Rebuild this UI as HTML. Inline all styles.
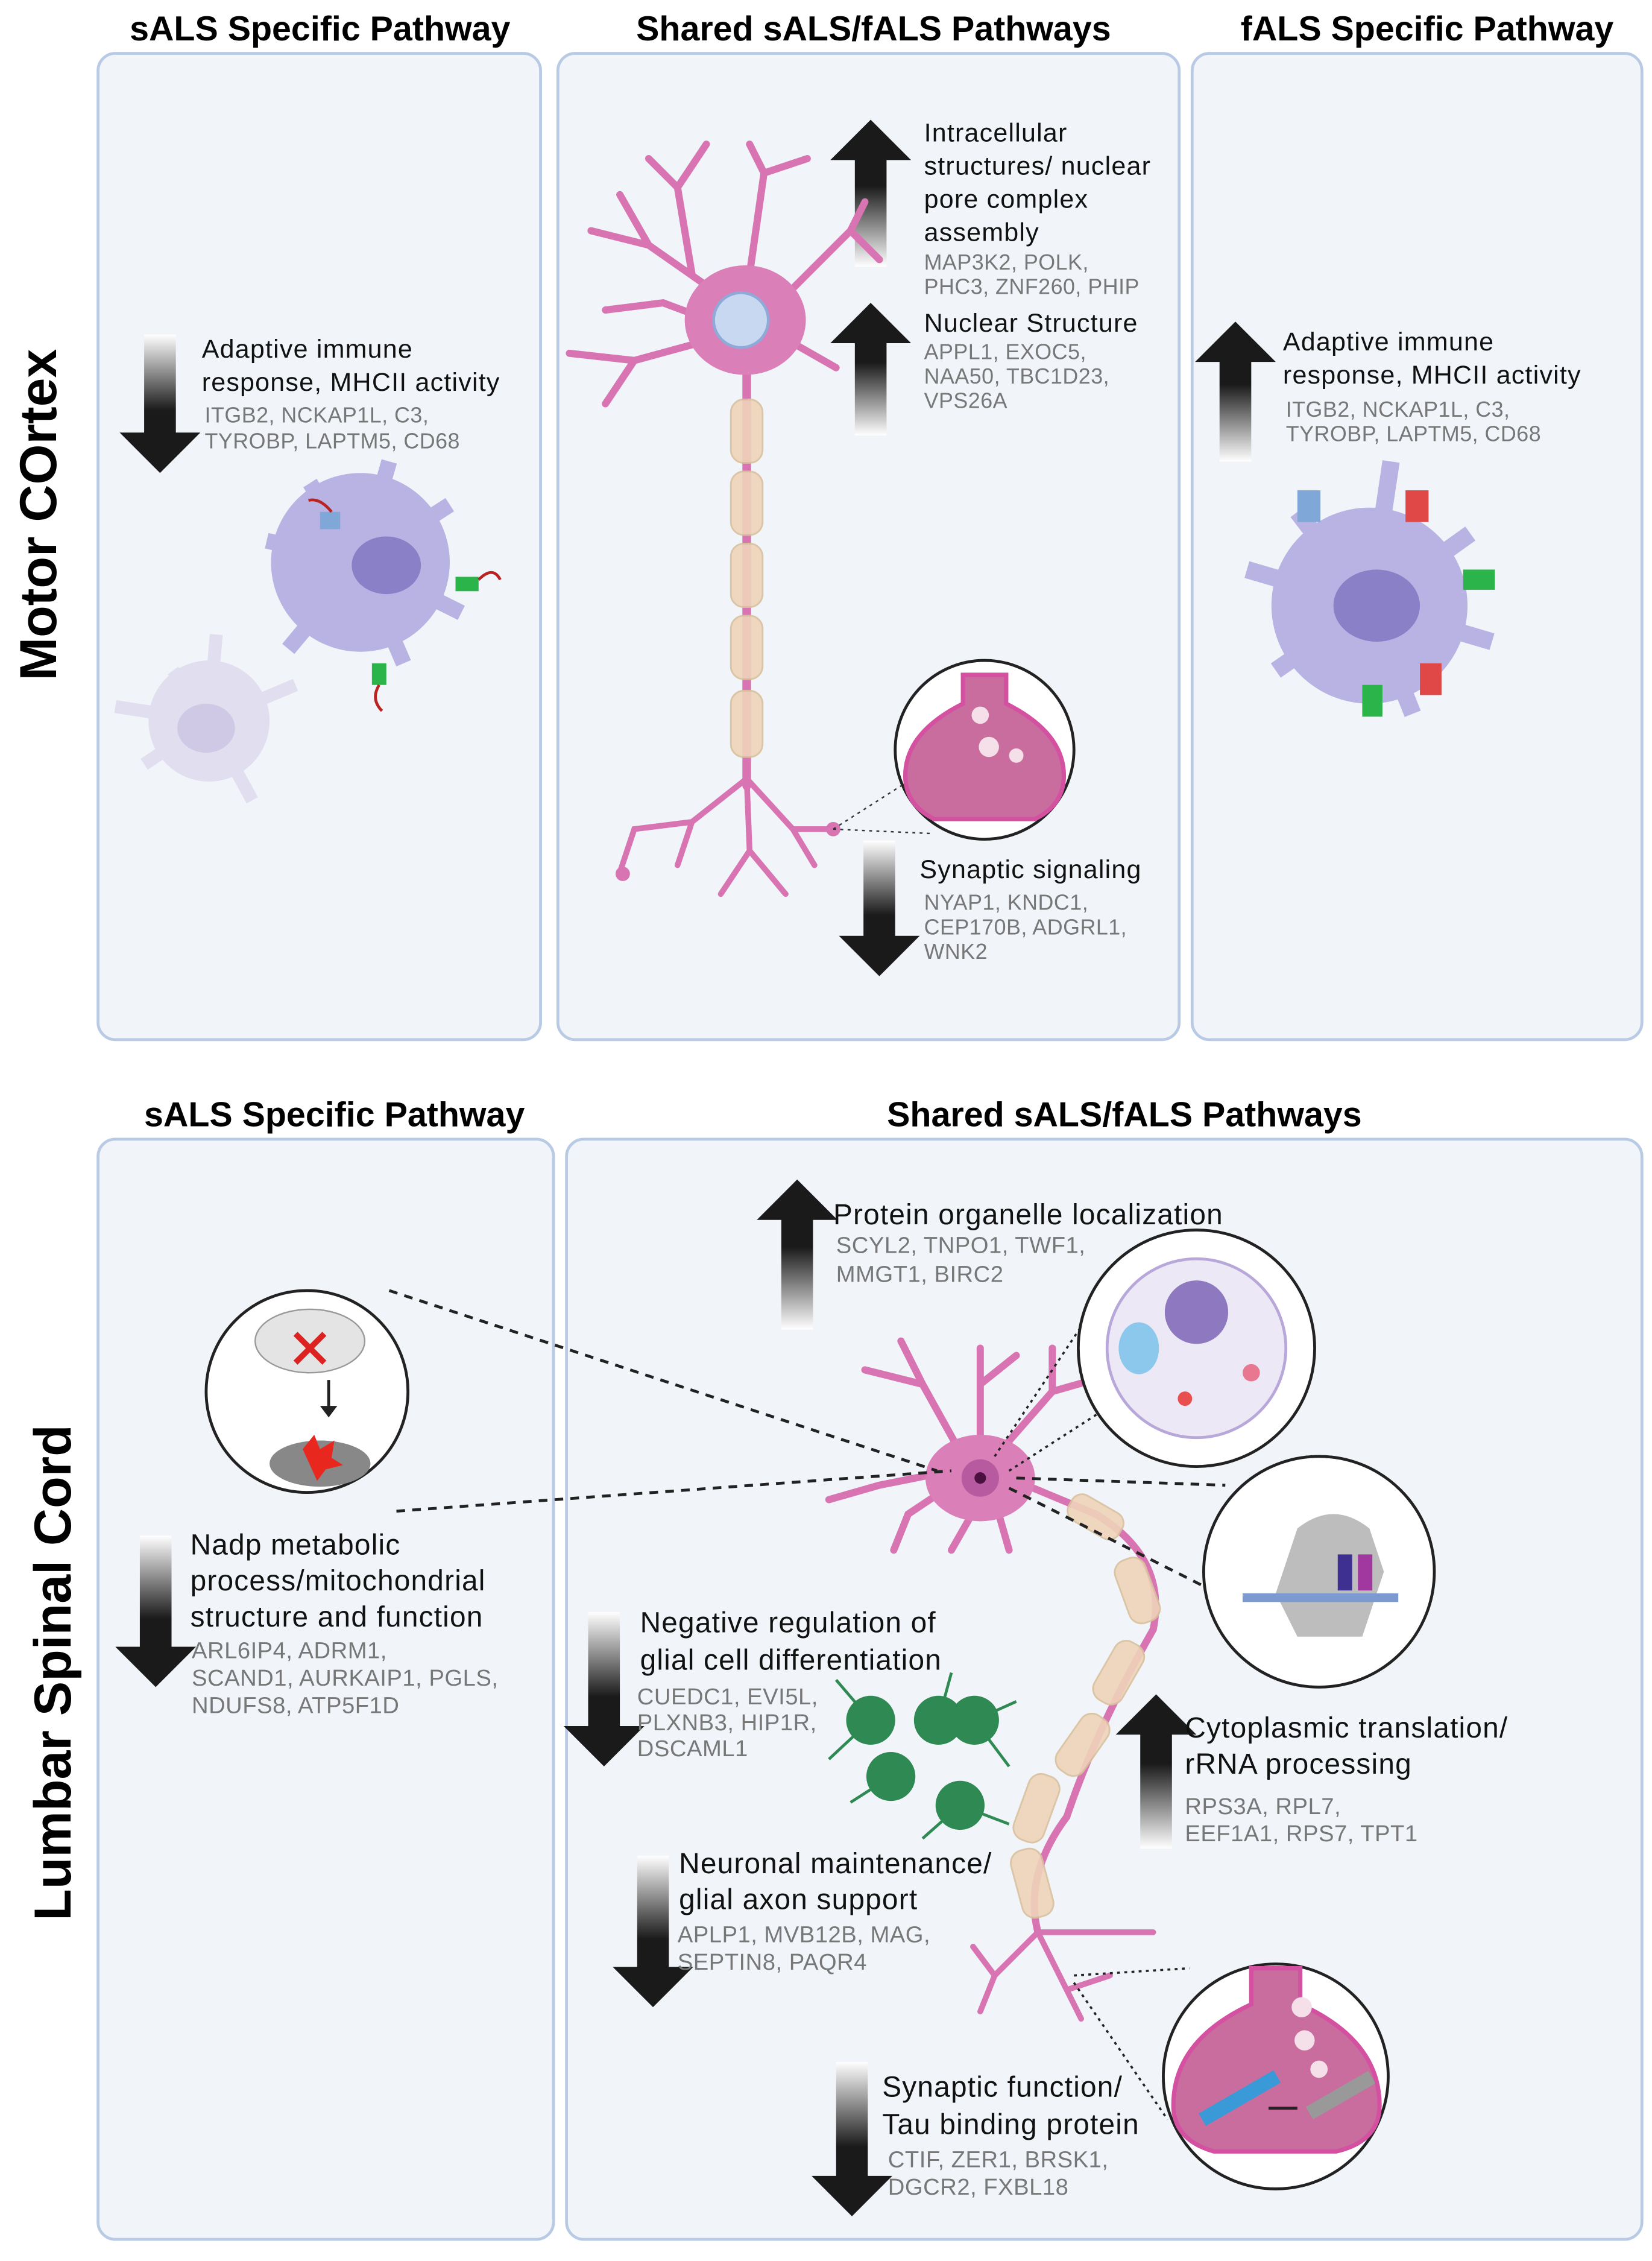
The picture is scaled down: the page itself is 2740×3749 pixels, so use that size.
<!DOCTYPE html>
<html><head><meta charset="utf-8"><style>
html,body{margin:0;padding:0;background:#fff}
svg{display:block}
text{font-family:"Liberation Sans",sans-serif}
.h{font-weight:bold;font-size:24px;fill:#000;text-anchor:middle}
.t{font-size:18px;letter-spacing:0.5px;fill:#111}
.T{font-size:20px;letter-spacing:0.5px;fill:#111}
.g{font-size:15px;letter-spacing:0.2px;fill:#777}
.G{font-size:16px;letter-spacing:0.2px;fill:#777}
.p{fill:#f1f5fa;stroke:#b9cbe4;stroke-width:2}
.den{fill:none;stroke:#d874b2;stroke-linecap:round}
.my{fill:#efd3b9;stroke:#d8c29e;stroke-width:1.2;opacity:.9}
</style></head><body>
<svg width="2740" height="3749" viewBox="0 0 1146 1568" xmlns="http://www.w3.org/2000/svg">
<defs>
<linearGradient id="dn" x1="0" y1="0" x2="0" y2="1"><stop offset="0" stop-color="#fff"/><stop offset=".55" stop-color="#1a1a1a"/><stop offset="1" stop-color="#1a1a1a"/></linearGradient>
<linearGradient id="up" x1="0" y1="1" x2="0" y2="0"><stop offset="0" stop-color="#fff"/><stop offset=".55" stop-color="#1a1a1a"/><stop offset="1" stop-color="#1a1a1a"/></linearGradient>
</defs>
<rect width="1146" height="1568" fill="#fff"/>
<rect class="p" x="68" y="37" width="307" height="684" rx="12"/>
<rect class="p" x="387" y="37" width="431" height="684" rx="12"/>
<rect class="p" x="827" y="37" width="312" height="684" rx="12"/>
<rect class="p" x="68" y="790" width="316" height="763" rx="12"/>
<rect class="p" x="393" y="790" width="746" height="763" rx="12"/>
<text class="h" x="222" y="28">sALS Specific Pathway</text>
<text class="h" x="606" y="28">Shared sALS/fALS Pathways</text>
<text class="h" x="990" y="28">fALS Specific Pathway</text>
<text class="h" x="232" y="781">sALS Specific Pathway</text>
<text class="h" x="780" y="781">Shared sALS/fALS Pathways</text>
<text class="h" transform="translate(39,357) rotate(-90)" style="font-size:36px">Motor COrtex</text>
<text class="h" transform="translate(49,1160) rotate(-90)" style="font-size:36px">Lumbar Spinal Cord</text>

<g fill="url(#dn)">
<path d="M100,232h22v68h17l-28,28l-28,-28h17z"/>
<path d="M599,583h22v66h17l-28,28l-28,-28h17z"/>
<path d="M97,1065h22v77h17l-28,28l-28,-28h17z"/>
<path d="M408,1118h22v79h17l-28,28l-28,-28h17z"/>
<path d="M442,1287h22v77h17l-28,28l-28,-28h17z"/>
<path d="M580,1430h22v79h17l-28,28l-28,-28h17z"/>
</g>
<g fill="url(#up)">
<path d="M593,185h22v-74h17l-28,-28l-28,28h17z"/>
<path d="M593,302h22v-64h17l-28,-28l-28,28h17z"/>
<path d="M846,320h22v-69h17l-28,-28l-28,28h17z"/>
<path d="M542,922h22v-76h17l-28,-28l-28,28h17z"/>
<path d="M791,1282h22v-79h17l-28,-28l-28,28h17z"/>
</g>

<text class="t" x="140" y="248">Adaptive immune</text>
<text class="t" x="140" y="271">response,  MHCII activity</text>
<text class="g" x="142" y="293">ITGB2, NCKAP1L, C3,</text>
<text class="g" x="142" y="311">TYROBP, LAPTM5, CD68</text>

<text class="t" x="641" y="98">Intracellular</text>
<text class="t" x="641" y="121">structures/ nuclear</text>
<text class="t" x="641" y="144">pore complex</text>
<text class="t" x="641" y="167">assembly</text>
<text class="g" x="641" y="187">MAP3K2, POLK,</text>
<text class="g" x="641" y="204">PHC3, ZNF260, PHIP</text>
<text class="t" x="641" y="230">Nuclear Structure</text>
<text class="g" x="641" y="249">APPL1, EXOC5,</text>
<text class="g" x="641" y="266">NAA50, TBC1D23,</text>
<text class="g" x="641" y="283">VPS26A</text>
<text class="t" x="638" y="609">Synaptic signaling</text>
<text class="g" x="641" y="631">NYAP1, KNDC1,</text>
<text class="g" x="641" y="648">CEP170B, ADGRL1,</text>
<text class="g" x="641" y="665">WNK2</text>

<text class="t" x="890" y="243">Adaptive immune</text>
<text class="t" x="890" y="266">response,  MHCII activity</text>
<text class="g" x="892" y="289">ITGB2, NCKAP1L, C3,</text>
<text class="g" x="892" y="306">TYROBP, LAPTM5, CD68</text>

<text class="T" x="578" y="849">Protein organelle localization</text>
<text class="G" x="580" y="869">SCYL2, TNPO1, TWF1,</text>
<text class="G" x="580" y="889">MMGT1, BIRC2</text>
<text class="T" x="132" y="1078">Nadp metabolic</text>
<text class="T" x="132" y="1103">process/mitochondrial</text>
<text class="T" x="132" y="1128">structure and function</text>
<text class="G" x="133" y="1150">ARL6IP4, ADRM1,</text>
<text class="G" x="133" y="1169">SCAND1, AURKAIP1, PGLS,</text>
<text class="G" x="133" y="1188">NDUFS8, ATP5F1D</text>
<text class="T" x="444" y="1132">Negative regulation of</text>
<text class="T" x="444" y="1158">glial cell differentiation</text>
<text class="G" x="442" y="1182">CUEDC1, EVI5L,</text>
<text class="G" x="442" y="1200">PLXNB3, HIP1R,</text>
<text class="G" x="442" y="1218">DSCAML1</text>
<text class="T" x="471" y="1299">Neuronal maintenance/</text>
<text class="T" x="471" y="1324">glial axon support</text>
<text class="G" x="470" y="1347">APLP1, MVB12B, MAG,</text>
<text class="G" x="470" y="1366">SEPTIN8, PAQR4</text>
<text class="T" x="612" y="1454">Synaptic function/</text>
<text class="T" x="612" y="1480">Tau binding protein</text>
<text class="G" x="616" y="1503">CTIF, ZER1, BRSK1,</text>
<text class="G" x="616" y="1522">DGCR2, FXBL18</text>
<text class="T" x="822" y="1205">Cytoplasmic translation/</text>
<text class="T" x="822" y="1230">rRNA processing</text>
<text class="G" x="822" y="1258">RPS3A, RPL7,</text>
<text class="G" x="822" y="1277">EEF1A1, RPS7, TPT1</text>

<g class="den" stroke-width="5">
<path d="M500,205 L450,170 L410,160 M450,170 L430,135 M480,190 L470,130 L450,110 M470,130 L490,100 M520,190 L530,120 L520,100 M530,120 L560,110 M545,205 L590,160 L600,140 M590,160 L610,180 M495,235 L440,250 L395,245 M440,250 L420,280 M545,235 L580,255 M500,225 L460,210 L420,215"/>
<path d="M518,540 L480,570 L440,575 L430,605 M480,570 L470,600 M518,540 L520,590 L500,620 M520,590 L545,620 M518,540 L550,575 L578,575 M550,575 L565,600" stroke-width="4"/>
<path d="M518,255 L518,545" stroke-width="6"/>
</g>
<circle cx="432" cy="606" r="5" fill="#d874b2"/><circle cx="578" cy="575" r="5" fill="#d874b2"/>
<ellipse cx="517" cy="222" rx="42" ry="38" fill="#db7fb8"/>
<circle cx="514" cy="222" r="19" fill="#c7d8f0" stroke="#8faad8" stroke-width="2"/>
<g class="my"><rect x="507" y="277" width="22" height="44" rx="9"/><rect x="507" y="327" width="22" height="44" rx="9"/><rect x="507" y="377" width="22" height="44" rx="9"/><rect x="507" y="427" width="22" height="44" rx="9"/><rect x="507" y="479" width="22" height="46" rx="9"/></g>
<path d="M578,575 L625,545 M578,575 L645,578" stroke="#333" stroke-dasharray="2,3" fill="none"/>
<circle cx="683" cy="520" r="62" fill="#fff" stroke="#222" stroke-width="2"/>
<path d="M668,468 h30 v20 q40,20 40,50 q0,20 -20,30 h-70 q-20,-10 -20,-30 q0,-30 40,-50z" fill="#c96d9e" stroke="#d450a0" stroke-width="3"/>
<circle cx="680" cy="496" r="6" fill="#f5e0ea"/><circle cx="686" cy="518" r="7" fill="#f5e0ea"/><circle cx="705" cy="524" r="5" fill="#f5e0ea"/>

<g fill="#e0dcef" opacity=".9"><circle cx="145" cy="500" r="42"/><path d="M145,500 L80,490 M145,500 L150,440 M145,500 L100,530 M145,500 L175,555 M145,500 L205,475 M145,500 L120,465" stroke="#e0dcef" stroke-width="9"/></g>
<ellipse cx="143" cy="505" rx="20" ry="17" fill="#cfc9e6"/>
<g fill="#b8b3e3"><circle cx="250" cy="390" r="62"/><path d="M250,390 L185,375 M250,390 L215,335 M250,390 L270,320 M250,390 L312,350 M250,390 L320,425 M250,390 L280,460 M250,390 L200,450" stroke="#b8b3e3" stroke-width="11"/></g>
<ellipse cx="268" cy="392" rx="24" ry="20" fill="#8a80c8"/>
<rect x="222" y="355" width="14" height="12" fill="#7fa8d8"/><rect x="316" y="400" width="16" height="10" fill="#2ab44a"/><rect x="258" y="460" width="10" height="15" fill="#2ab44a"/>
<path d="M230,355 q-8,-10 -16,-8 M332,402 q10,-10 15,0 M263,475 q-6,10 2,18" stroke="#b22" stroke-width="2" fill="none"/>
<g fill="#b8b3e3"><circle cx="950" cy="420" r="68"/><path d="M950,420 L865,395 M950,420 L900,355 M950,420 L965,320 M950,420 L1020,370 M950,420 L1035,445 M950,420 L980,495 M950,420 L885,465 M950,420 L935,485" stroke="#b8b3e3" stroke-width="12"/></g>
<ellipse cx="955" cy="420" rx="30" ry="25" fill="#8a80c8"/>
<rect x="900" y="340" width="16" height="22" fill="#7fa8d8"/><rect x="975" y="340" width="16" height="22" fill="#e04848"/><rect x="1015" y="395" width="22" height="14" fill="#2ab44a"/><rect x="985" y="460" width="15" height="22" fill="#e04848"/><rect x="945" y="475" width="14" height="22" fill="#2ab44a"/>

<g class="den" stroke-width="5">
<path d="M665,1005 L640,960 L600,950 M640,960 L625,930 M680,1000 L680,935 M680,960 L705,940 M695,1005 L730,965 L765,955 M730,965 L730,935 M660,1020 L610,1030 L575,1040 M660,1030 L630,1050 L620,1075 M680,1040 L660,1075 M690,1040 L700,1075 M700,1025 L760,1050"/>
<path d="M720,1340 L690,1370 L680,1395 M690,1370 L675,1350 M720,1340 L740,1380 L750,1400 M740,1380 L770,1370 M720,1340 L765,1340 L800,1340" stroke-width="4"/>
<path d="M760,1050 Q810,1080 800,1130 Q760,1200 740,1260 Q710,1300 720,1340" stroke-width="5"/>
</g>
<ellipse cx="680" cy="1025" rx="38" ry="30" fill="#db7fb8"/>
<circle cx="680" cy="1025" r="13" fill="#b75aa0"/><circle cx="680" cy="1025" r="4" fill="#4a1040"/>
<g class="my"><rect x="740" y="1042" width="40" height="20" rx="8" transform="rotate(30 760 1052)"/><rect x="778" y="1080" width="22" height="46" rx="9" transform="rotate(-20 789 1103)"/><rect x="765" y="1137" width="22" height="46" rx="9" transform="rotate(30 776 1160)"/><rect x="740" y="1187" width="22" height="46" rx="9" transform="rotate(35 751 1210)"/><rect x="708" y="1230" width="22" height="48" rx="9" transform="rotate(20 719 1254)"/><rect x="705" y="1282" width="22" height="48" rx="9" transform="rotate(-15 716 1306)"/></g>
<g fill="#2e8a52" stroke="#2e8a52" stroke-width="2">
<circle cx="604" cy="1193" r="16"/><circle cx="651" cy="1193" r="16"/><circle cx="676" cy="1193" r="16"/><circle cx="618" cy="1232" r="16"/><circle cx="666" cy="1252" r="16"/>
<path d="M604,1193 L580,1165 M604,1193 L575,1220 M651,1193 L660,1160 M676,1193 L705,1180 M618,1232 L590,1250 M666,1252 L700,1265 M666,1252 L640,1275 M676,1193 L700,1225" fill="none"/>
</g>
<g stroke="#222" stroke-width="2" fill="none" stroke-dasharray="6,5">
<path d="M270,895 L650,1020"/><path d="M275,1048 L660,1020"/><path d="M705,1025 L850,1030"/><path d="M700,1032 L835,1100"/>
</g>
<g stroke="#222" stroke-width="1.5" fill="none" stroke-dasharray="2,3">
<path d="M690,1010 L760,905"/><path d="M700,1020 L770,975"/><path d="M745,1370 L825,1365"/><path d="M745,1375 L810,1470"/>
</g>
<circle cx="213" cy="965" r="70" fill="#fff" stroke="#222" stroke-width="2"/>
<ellipse cx="215" cy="930" rx="38" ry="22" fill="#e4e4e4" stroke="#999"/>
<path d="M205,925 l20,20 M225,925 l-20,20" stroke="#d22" stroke-width="4"/>
<path d="M228,957 v20" stroke="#222" stroke-width="2"/><path d="M222,975 l6,8 l6,-8z" fill="#222"/>
<ellipse cx="222" cy="1015" rx="35" ry="16" fill="#888"/><path d="M210,1005 l8,-10 l4,10 l10,-6 l-2,12 l8,5 l-12,3 l-6,8z" fill="#e8281e"/>
<circle cx="830" cy="935" r="82" fill="#fff" stroke="#222" stroke-width="2"/>
<circle cx="830" cy="935" r="62" fill="#ece8f6" stroke="#b8a8da" stroke-width="2"/>
<circle cx="830" cy="910" r="22" fill="#8e78bf"/><ellipse cx="790" cy="935" rx="14" ry="18" fill="#8cc8ec"/><circle cx="822" cy="970" r="5" fill="#e85050"/><circle cx="868" cy="952" r="6" fill="#e87890"/>
<circle cx="915" cy="1090" r="80" fill="#fff" stroke="#222" stroke-width="2"/>
<path d="M900,1060 q25,-20 50,0 l10,30 l-15,45 l-45,0 l-15,-30z" fill="#bdbdbd"/>
<rect x="862" y="1105" width="108" height="6" fill="#7a9ad0"/>
<rect x="928" y="1078" width="10" height="25" fill="#3e3090"/><rect x="942" y="1078" width="10" height="25" fill="#a038a0"/>
<circle cx="885" cy="1440" r="78" fill="#fff" stroke="#222" stroke-width="2"/>
<path d="M868,1365 h34 v25 q55,25 55,70 q0,25 -30,32 h-85 q-28,-8 -28,-32 q0,-45 54,-70z" fill="#c96d9e" stroke="#d450a0" stroke-width="3"/>
<circle cx="903" cy="1392" r="7" fill="#f5e0ea"/><circle cx="905" cy="1415" r="7" fill="#f5e0ea"/><circle cx="915" cy="1435" r="6" fill="#f5e0ea"/>
<rect x="830" y="1450" width="60" height="10" fill="#3a9ad8" transform="rotate(-30 860 1455)"/>
<path d="M880,1462 h20" stroke="#222" stroke-width="2"/><rect x="905" y="1448" width="50" height="10" fill="#999" transform="rotate(-30 930 1453)"/>
</svg>
</body></html>
